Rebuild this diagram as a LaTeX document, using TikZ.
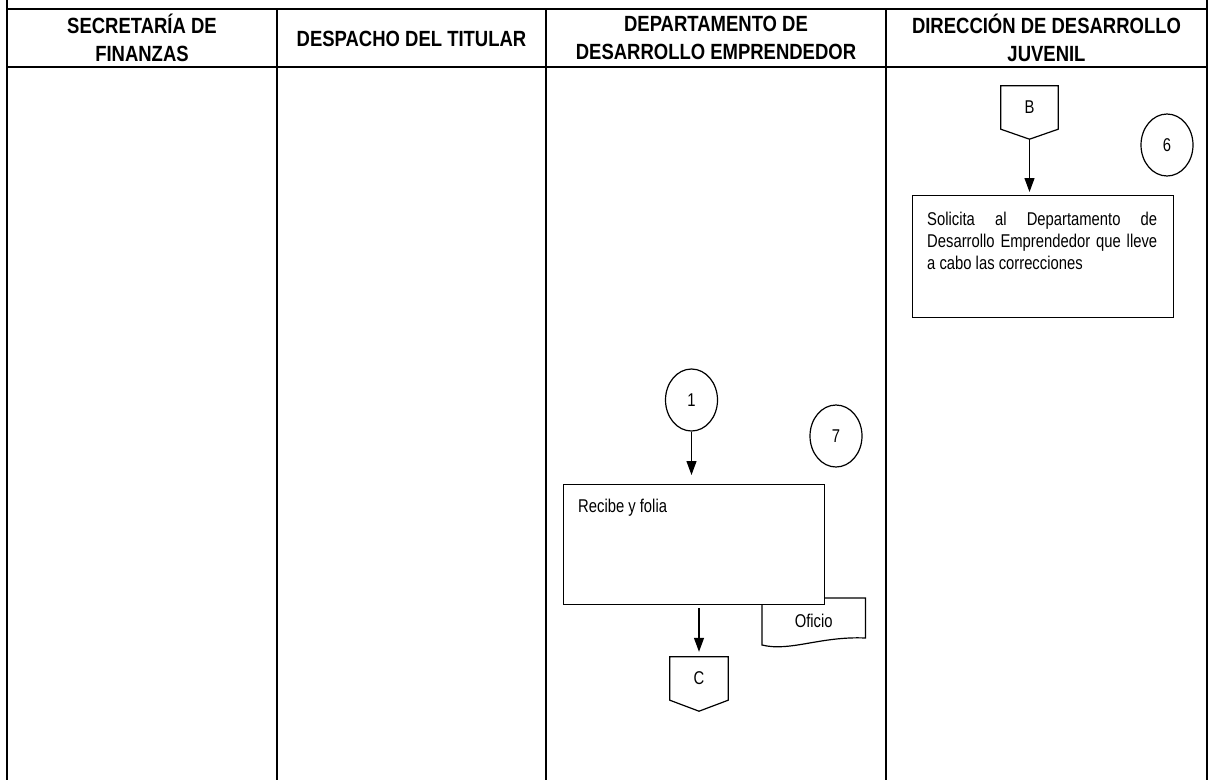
\documentclass[tikz,border=0pt]{standalone}
\usepackage{fontspec}
\setmainfont{Liberation Sans}[FakeStretch=0.8]
\newfontfamily\headfont{Liberation Sans}[FakeStretch=0.84]
\usetikzlibrary{arrows.meta, positioning, shapes.geometric, calc}

\tikzset{
  lane/.style={line width=2pt},
  head/.style={font=\headfont\fontsize{22}{28}\selectfont\bfseries, align=center, inner sep=0pt},
  box/.style={draw, line width=1.2pt, fill=white, anchor=north west, inner sep=0pt},
  boxtext/.style={anchor=north west, inner sep=0pt, align=left},
  numcirc/.style={draw, ellipse, line width=1.2pt, minimum width=52pt, minimum height=62pt, inner sep=0pt},
  offpage/.style={minimum width=57pt, minimum height=43pt, inner sep=0pt},
  flow/.style={line width=1.2pt, -{Triangle[length=14pt,width=10pt]}},
  conn/.style={line width=1.2pt}
}

\begin{document}
\begin{tikzpicture}[x=1pt, y=-1pt, font=\fontsize{18.5}{22}\selectfont]
\useasboundingbox (0,0) rectangle (1216,780);
% swimlanes
\draw[lane] (7,0) -- (7,780);
\draw[lane] (1207,0) -- (1207,780);
\draw[lane] (7,9) -- (1207,9);
\draw[lane] (7,67) -- (1207,67);
\foreach \x in {277,546,886} \draw[lane] (\x,9) -- (\x,780);

% lane titles
\node[head] (finanzas) at (142,38) {SECRETARÍA DE\\FINANZAS};
\node[head] (despacho) at (411.5,39) {DESPACHO DEL TITULAR};
\node[head] (emprend) at (716,38) {DEPARTAMENTO DE\\DESARROLLO EMPRENDEDOR};
\node[head] (juvenil) at (1046.5,38) {DIRECCIÓN DE DESARROLLO\\JUVENIL};

% Direccion de Desarrollo Juvenil
\node[offpage] (B) at (1029.5,107.5) {B};
\coordinate (Btip) at ($(B.south)+(0,10)$);
\draw[conn] (B.south west) -- (B.north west) -- (B.north east) -- (B.south east) -- (Btip) -- cycle;
\node[numcirc] (n6) at (1167,145) {6};
\node[box, minimum width=261pt, minimum height=122pt] (a6) at (912,195) {};
\node[boxtext] (t6) at ([xshift=15pt,yshift=-17pt]a6.north west)
  {\makebox[230pt][s]{Solicita al Departamento de}\\
   \makebox[230pt][s]{Desarrollo Emprendedor que lleve}\\
   a cabo las correcciones};
\draw[flow, shorten >=3pt] (Btip) -- (Btip |- a6.north);

% Departamento de Desarrollo Emprendedor
\node[numcirc] (n1) at (691.5,400) {1};
\node[numcirc] (n7) at (836,436) {7};
\node[inner sep=0pt, minimum width=103pt, minimum height=46pt, anchor=north west] (doc) at (762,598) {Oficio};
\draw[conn] (doc.north west) -- (doc.north east) -- ($(doc.north east)+(0,40)$)
  .. controls ($(doc.north east)+(-45,-2)+(0,40)$) and ($(doc.north west)+(28,54)$) .. ($(doc.north west)+(0,47)$) -- cycle;
\node[box, minimum width=261pt, minimum height=120pt] (a7) at (563,484) {};
\node[boxtext] (t7) at ([xshift=15pt,yshift=-15pt]a7.north west) {Recibe y folia};
\draw[flow, shorten >=9pt] (n1) -- (n1 |- a7.north);
\node[offpage, minimum width=58pt] (C) at (699,678.5) {C};
\coordinate (Ctip) at ($(C.south)+(0,11)$);
\draw[conn] (C.south west) -- (C.north west) -- (C.north east) -- (C.south east) -- (Ctip) -- cycle;
\draw[flow, shorten <=3pt, shorten >=5pt] (a7.south -| C) -- (C.north);
\end{tikzpicture}
\end{document}
